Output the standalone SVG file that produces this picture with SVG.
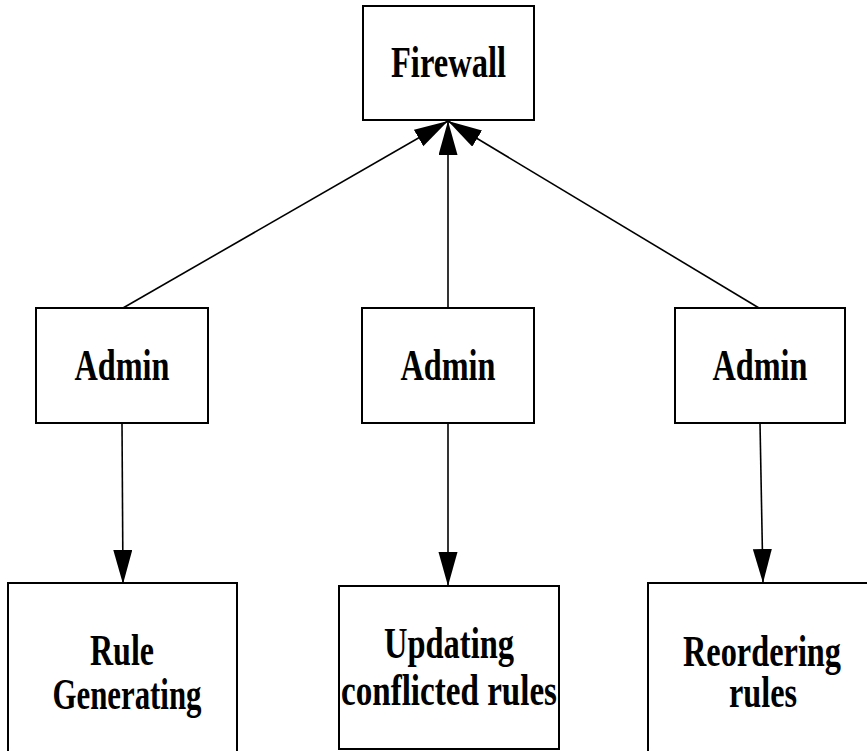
<svg xmlns="http://www.w3.org/2000/svg" width="867" height="751" viewBox="0 0 867 751">
  <style>
    .box { fill: #ffffff; stroke: #000000; stroke-width: 2; }
    .lbl { font-family: "Liberation Serif", "Times New Roman", serif; font-weight: bold; font-size: 44px; fill: #000000; text-anchor: middle; }
    .edge { stroke: #000000; stroke-width: 1.6; fill: none; marker-end: url(#head); }
  </style>
  <defs>
    <marker id="head" markerUnits="userSpaceOnUse" markerWidth="36" markerHeight="20" refX="34" refY="9.5" orient="auto">
      <path d="M0,0 L34,9.5 L0,19 Z" fill="#000000"/>
    </marker>
  </defs>
  <rect width="867" height="751" fill="#ffffff"/>

  <g id="connectors">
    <line class="edge" x1="123" y1="308" x2="448" y2="121"/>
    <line class="edge" x1="448" y1="308" x2="448" y2="121"/>
    <line class="edge" x1="759" y1="308" x2="448" y2="121"/>
    <line class="edge" x1="122" y1="423" x2="123" y2="584"/>
    <line class="edge" x1="448" y1="423" x2="448" y2="586"/>
    <line class="edge" x1="760" y1="423" x2="763" y2="583"/>
  </g>

  <g id="firewall">
    <rect class="box" x="363" y="6" width="171" height="114"/>
    <text class="lbl" x="448.5" y="77" textLength="115" lengthAdjust="spacingAndGlyphs">Firewall</text>
  </g>

  <g id="admin-1">
    <rect class="box" x="36" y="308" width="172" height="115"/>
    <text class="lbl" x="122" y="380" textLength="95" lengthAdjust="spacingAndGlyphs">Admin</text>
  </g>
  <g id="admin-2">
    <rect class="box" x="362" y="308" width="172" height="115"/>
    <text class="lbl" x="448" y="380" textLength="95" lengthAdjust="spacingAndGlyphs">Admin</text>
  </g>
  <g id="admin-3">
    <rect class="box" x="675" y="308" width="170" height="115"/>
    <text class="lbl" x="760" y="380" textLength="95" lengthAdjust="spacingAndGlyphs">Admin</text>
  </g>

  <g id="rule-generating">
    <rect class="box" x="8" y="583" width="229" height="190"/>
    <text class="lbl" x="122" y="665" textLength="64" lengthAdjust="spacingAndGlyphs">Rule</text>
    <text class="lbl" x="127" y="709" textLength="149" lengthAdjust="spacingAndGlyphs">Generating</text>
  </g>

  <g id="updating-conflicted">
    <rect class="box" x="339" y="586" width="220" height="163"/>
    <text class="lbl" x="449" y="658" textLength="130" lengthAdjust="spacingAndGlyphs">Updating</text>
    <text class="lbl" x="449" y="705" textLength="216" lengthAdjust="spacingAndGlyphs">conflicted rules</text>
  </g>

  <g id="reordering">
    <rect class="box" x="648" y="583" width="240" height="190"/>
    <text class="lbl" x="762" y="666" textLength="158" lengthAdjust="spacingAndGlyphs">Reordering</text>
    <text class="lbl" x="763" y="707" textLength="68" lengthAdjust="spacingAndGlyphs">rules</text>
  </g>
</svg>
